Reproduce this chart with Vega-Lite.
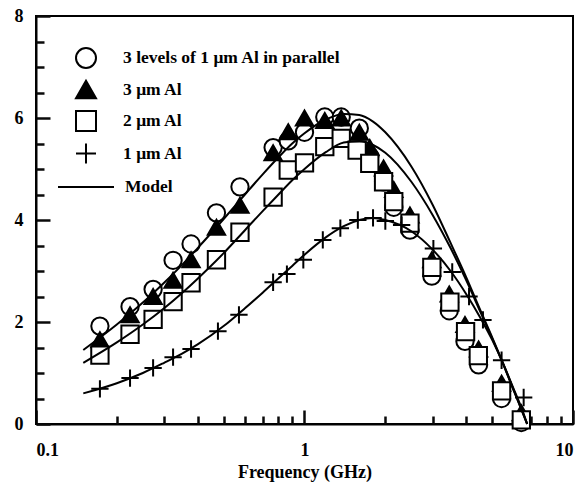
{
  "$schema": "https://vega.github.io/schema/vega-lite/v6.json",
  "width": 537,
  "height": 408,
  "autosize": {"type": "none"},
  "padding": {"left": 36, "top": 16, "right": 12, "bottom": 65},
  "background": "white",
  "config": {
    "view": {"stroke": "black", "strokeWidth": 2},
    "font": "Liberation Serif",
    "axis": {
      "grid": false,
      "domainColor": "black",
      "domainWidth": 2,
      "labelFont": "Liberation Serif",
      "labelFontWeight": "bold",
      "labelFontSize": 18,
      "labelColor": "black",
      "titleFont": "Liberation Serif",
      "titleFontWeight": "bold",
      "titleFontSize": 18,
      "titleColor": "black"
    }
  },
  "datasets": {
    "points": [
      {"f": 0.173, "g": 1.92, "s": "3 levels of 1 μm Al in parallel"},
      {"f": 0.224, "g": 2.30, "s": "3 levels of 1 μm Al in parallel"},
      {"f": 0.273, "g": 2.64, "s": "3 levels of 1 μm Al in parallel"},
      {"f": 0.324, "g": 3.21, "s": "3 levels of 1 μm Al in parallel"},
      {"f": 0.378, "g": 3.53, "s": "3 levels of 1 μm Al in parallel"},
      {"f": 0.47, "g": 4.14, "s": "3 levels of 1 μm Al in parallel"},
      {"f": 0.575, "g": 4.65, "s": "3 levels of 1 μm Al in parallel"},
      {"f": 0.764, "g": 5.42, "s": "3 levels of 1 μm Al in parallel"},
      {"f": 0.87, "g": 5.55, "s": "3 levels of 1 μm Al in parallel"},
      {"f": 1.0, "g": 5.72, "s": "3 levels of 1 μm Al in parallel"},
      {"f": 1.19, "g": 6.02, "s": "3 levels of 1 μm Al in parallel"},
      {"f": 1.37, "g": 6.02, "s": "3 levels of 1 μm Al in parallel"},
      {"f": 1.6, "g": 5.8, "s": "3 levels of 1 μm Al in parallel"},
      {"f": 1.75, "g": 5.25, "s": "3 levels of 1 μm Al in parallel"},
      {"f": 1.97, "g": 4.75, "s": "3 levels of 1 μm Al in parallel"},
      {"f": 2.15, "g": 4.25, "s": "3 levels of 1 μm Al in parallel"},
      {"f": 2.47, "g": 3.8, "s": "3 levels of 1 μm Al in parallel"},
      {"f": 2.98, "g": 2.9, "s": "3 levels of 1 μm Al in parallel"},
      {"f": 3.46, "g": 2.22, "s": "3 levels of 1 μm Al in parallel"},
      {"f": 3.96, "g": 1.62, "s": "3 levels of 1 μm Al in parallel"},
      {"f": 4.45, "g": 1.16, "s": "3 levels of 1 μm Al in parallel"},
      {"f": 5.42, "g": 0.5, "s": "3 levels of 1 μm Al in parallel"},
      {"f": 6.42, "g": 0.03, "s": "3 levels of 1 μm Al in parallel"},
      {"f": 0.173, "g": 1.65, "s": "3 μm Al"},
      {"f": 0.224, "g": 2.14, "s": "3 μm Al"},
      {"f": 0.273, "g": 2.50, "s": "3 μm Al"},
      {"f": 0.324, "g": 2.82, "s": "3 μm Al"},
      {"f": 0.378, "g": 3.22, "s": "3 μm Al"},
      {"f": 0.47, "g": 3.86, "s": "3 μm Al"},
      {"f": 0.575, "g": 4.29, "s": "3 μm Al"},
      {"f": 0.764, "g": 5.32, "s": "3 μm Al"},
      {"f": 0.87, "g": 5.73, "s": "3 μm Al"},
      {"f": 1.0, "g": 6.0, "s": "3 μm Al"},
      {"f": 1.19, "g": 5.95, "s": "3 μm Al"},
      {"f": 1.37, "g": 6.0, "s": "3 μm Al"},
      {"f": 1.6, "g": 5.72, "s": "3 μm Al"},
      {"f": 1.75, "g": 5.42, "s": "3 μm Al"},
      {"f": 1.97, "g": 5.02, "s": "3 μm Al"},
      {"f": 2.15, "g": 4.6, "s": "3 μm Al"},
      {"f": 2.47, "g": 4.1, "s": "3 μm Al"},
      {"f": 2.98, "g": 3.22, "s": "3 μm Al"},
      {"f": 3.46, "g": 2.55, "s": "3 μm Al"},
      {"f": 3.96, "g": 1.95, "s": "3 μm Al"},
      {"f": 4.45, "g": 1.47, "s": "3 μm Al"},
      {"f": 5.42, "g": 0.8, "s": "3 μm Al"},
      {"f": 6.42, "g": 0.22, "s": "3 μm Al"},
      {"f": 0.173, "g": 1.35, "s": "2 μm Al"},
      {"f": 0.224, "g": 1.76, "s": "2 μm Al"},
      {"f": 0.273, "g": 2.05, "s": "2 μm Al"},
      {"f": 0.324, "g": 2.40, "s": "2 μm Al"},
      {"f": 0.378, "g": 2.77, "s": "2 μm Al"},
      {"f": 0.47, "g": 3.22, "s": "2 μm Al"},
      {"f": 0.575, "g": 3.76, "s": "2 μm Al"},
      {"f": 0.764, "g": 4.45, "s": "2 μm Al"},
      {"f": 0.87, "g": 4.98, "s": "2 μm Al"},
      {"f": 1.0, "g": 5.12, "s": "2 μm Al"},
      {"f": 1.19, "g": 5.44, "s": "2 μm Al"},
      {"f": 1.37, "g": 5.6, "s": "2 μm Al"},
      {"f": 1.57, "g": 5.37, "s": "2 μm Al"},
      {"f": 1.75, "g": 5.11, "s": "2 μm Al"},
      {"f": 1.97, "g": 4.75, "s": "2 μm Al"},
      {"f": 2.15, "g": 4.36, "s": "2 μm Al"},
      {"f": 2.47, "g": 3.94, "s": "2 μm Al"},
      {"f": 2.98, "g": 3.07, "s": "2 μm Al"},
      {"f": 3.48, "g": 2.39, "s": "2 μm Al"},
      {"f": 3.98, "g": 1.81, "s": "2 μm Al"},
      {"f": 4.44, "g": 1.34, "s": "2 μm Al"},
      {"f": 5.42, "g": 0.65, "s": "2 μm Al"},
      {"f": 6.42, "g": 0.08, "s": "2 μm Al"},
      {"f": 0.173, "g": 0.69, "s": "1 μm Al"},
      {"f": 0.224, "g": 0.90, "s": "1 μm Al"},
      {"f": 0.273, "g": 1.10, "s": "1 μm Al"},
      {"f": 0.324, "g": 1.31, "s": "1 μm Al"},
      {"f": 0.378, "g": 1.47, "s": "1 μm Al"},
      {"f": 0.476, "g": 1.82, "s": "1 μm Al"},
      {"f": 0.57, "g": 2.14, "s": "1 μm Al"},
      {"f": 0.764, "g": 2.78, "s": "1 μm Al"},
      {"f": 0.86, "g": 2.94, "s": "1 μm Al"},
      {"f": 0.99, "g": 3.22, "s": "1 μm Al"},
      {"f": 1.17, "g": 3.61, "s": "1 μm Al"},
      {"f": 1.36, "g": 3.84, "s": "1 μm Al"},
      {"f": 1.58, "g": 4.0, "s": "1 μm Al"},
      {"f": 1.8, "g": 4.04, "s": "1 μm Al"},
      {"f": 2.0, "g": 3.98, "s": "1 μm Al"},
      {"f": 2.3, "g": 3.9, "s": "1 μm Al"},
      {"f": 3.02, "g": 3.44, "s": "1 μm Al"},
      {"f": 3.55, "g": 2.98, "s": "1 μm Al"},
      {"f": 4.1, "g": 2.5, "s": "1 μm Al"},
      {"f": 4.62, "g": 2.04, "s": "1 μm Al"},
      {"f": 5.42, "g": 1.25, "s": "1 μm Al"},
      {"f": 6.55, "g": 0.52, "s": "1 μm Al"}
    ],
    "model": [
      {"f": 0.15, "g": 1.45, "c": "A", "m": "Model"},
      {"f": 0.2, "g": 1.95, "c": "A", "m": "Model"},
      {"f": 0.25, "g": 2.38, "c": "A", "m": "Model"},
      {"f": 0.3, "g": 2.77, "c": "A", "m": "Model"},
      {"f": 0.35, "g": 3.12, "c": "A", "m": "Model"},
      {"f": 0.4, "g": 3.45, "c": "A", "m": "Model"},
      {"f": 0.5, "g": 4.02, "c": "A", "m": "Model"},
      {"f": 0.6, "g": 4.5, "c": "A", "m": "Model"},
      {"f": 0.7, "g": 4.9, "c": "A", "m": "Model"},
      {"f": 0.8, "g": 5.23, "c": "A", "m": "Model"},
      {"f": 0.9, "g": 5.5, "c": "A", "m": "Model"},
      {"f": 1.0, "g": 5.7, "c": "A", "m": "Model"},
      {"f": 1.2, "g": 5.97, "c": "A", "m": "Model"},
      {"f": 1.4, "g": 6.08, "c": "A", "m": "Model"},
      {"f": 1.6, "g": 6.06, "c": "A", "m": "Model"},
      {"f": 1.8, "g": 5.93, "c": "A", "m": "Model"},
      {"f": 2.0, "g": 5.72, "c": "A", "m": "Model"},
      {"f": 2.5, "g": 5.05, "c": "A", "m": "Model"},
      {"f": 3.0, "g": 4.3, "c": "A", "m": "Model"},
      {"f": 3.5, "g": 3.55, "c": "A", "m": "Model"},
      {"f": 4.0, "g": 2.88, "c": "A", "m": "Model"},
      {"f": 4.5, "g": 2.25, "c": "A", "m": "Model"},
      {"f": 5.0, "g": 1.7, "c": "A", "m": "Model"},
      {"f": 5.5, "g": 1.18, "c": "A", "m": "Model"},
      {"f": 6.0, "g": 0.68, "c": "A", "m": "Model"},
      {"f": 6.5, "g": 0.22, "c": "A", "m": "Model"},
      {"f": 6.75, "g": 0.0, "c": "A", "m": "Model"},
      {"f": 0.15, "g": 1.2, "c": "B", "m": "Model"},
      {"f": 0.2, "g": 1.6, "c": "B", "m": "Model"},
      {"f": 0.25, "g": 1.95, "c": "B", "m": "Model"},
      {"f": 0.3, "g": 2.27, "c": "B", "m": "Model"},
      {"f": 0.35, "g": 2.57, "c": "B", "m": "Model"},
      {"f": 0.4, "g": 2.85, "c": "B", "m": "Model"},
      {"f": 0.5, "g": 3.35, "c": "B", "m": "Model"},
      {"f": 0.6, "g": 3.8, "c": "B", "m": "Model"},
      {"f": 0.7, "g": 4.18, "c": "B", "m": "Model"},
      {"f": 0.8, "g": 4.5, "c": "B", "m": "Model"},
      {"f": 0.9, "g": 4.78, "c": "B", "m": "Model"},
      {"f": 1.0, "g": 5.0, "c": "B", "m": "Model"},
      {"f": 1.2, "g": 5.33, "c": "B", "m": "Model"},
      {"f": 1.4, "g": 5.52, "c": "B", "m": "Model"},
      {"f": 1.6, "g": 5.55, "c": "B", "m": "Model"},
      {"f": 1.8, "g": 5.47, "c": "B", "m": "Model"},
      {"f": 2.0, "g": 5.32, "c": "B", "m": "Model"},
      {"f": 2.5, "g": 4.75, "c": "B", "m": "Model"},
      {"f": 3.0, "g": 4.1, "c": "B", "m": "Model"},
      {"f": 3.5, "g": 3.45, "c": "B", "m": "Model"},
      {"f": 4.0, "g": 2.82, "c": "B", "m": "Model"},
      {"f": 4.5, "g": 2.22, "c": "B", "m": "Model"},
      {"f": 5.0, "g": 1.68, "c": "B", "m": "Model"},
      {"f": 5.5, "g": 1.17, "c": "B", "m": "Model"},
      {"f": 6.0, "g": 0.67, "c": "B", "m": "Model"},
      {"f": 6.5, "g": 0.22, "c": "B", "m": "Model"},
      {"f": 6.75, "g": 0.0, "c": "B", "m": "Model"},
      {"f": 0.15, "g": 0.6, "c": "C", "m": "Model"},
      {"f": 0.2, "g": 0.8, "c": "C", "m": "Model"},
      {"f": 0.25, "g": 1.0, "c": "C", "m": "Model"},
      {"f": 0.3, "g": 1.2, "c": "C", "m": "Model"},
      {"f": 0.35, "g": 1.38, "c": "C", "m": "Model"},
      {"f": 0.4, "g": 1.56, "c": "C", "m": "Model"},
      {"f": 0.5, "g": 1.92, "c": "C", "m": "Model"},
      {"f": 0.6, "g": 2.27, "c": "C", "m": "Model"},
      {"f": 0.7, "g": 2.58, "c": "C", "m": "Model"},
      {"f": 0.8, "g": 2.86, "c": "C", "m": "Model"},
      {"f": 0.9, "g": 3.1, "c": "C", "m": "Model"},
      {"f": 1.0, "g": 3.32, "c": "C", "m": "Model"},
      {"f": 1.2, "g": 3.66, "c": "C", "m": "Model"},
      {"f": 1.4, "g": 3.88, "c": "C", "m": "Model"},
      {"f": 1.6, "g": 4.0, "c": "C", "m": "Model"},
      {"f": 1.8, "g": 4.04, "c": "C", "m": "Model"},
      {"f": 2.0, "g": 4.0, "c": "C", "m": "Model"},
      {"f": 2.5, "g": 3.78, "c": "C", "m": "Model"},
      {"f": 3.0, "g": 3.42, "c": "C", "m": "Model"},
      {"f": 3.5, "g": 3.0, "c": "C", "m": "Model"},
      {"f": 4.0, "g": 2.55, "c": "C", "m": "Model"},
      {"f": 4.5, "g": 2.1, "c": "C", "m": "Model"},
      {"f": 5.0, "g": 1.65, "c": "C", "m": "Model"},
      {"f": 5.5, "g": 1.18, "c": "C", "m": "Model"},
      {"f": 6.0, "g": 0.7, "c": "C", "m": "Model"},
      {"f": 6.5, "g": 0.25, "c": "C", "m": "Model"},
      {"f": 6.75, "g": 0.0, "c": "C", "m": "Model"}
    ]
  },
  "layer": [
    {
      "data": {"name": "points"},
      "mark": {"type": "point", "filled": true, "stroke": "black", "strokeWidth": 2, "size": 300, "opacity": 1},
      "encoding": {
        "x": {"field": "f", "type": "quantitative", "scale": {"type": "log", "domain": [0.1, 10], "nice": false},
          "axis": {"orient": "bottom", "values": [0.1, 1, 10], "format": "~g", "tickColor": "#0a0a0a", "tickWidth": 2.5, "tickSize": -14, "labelPadding": 31, "title": "Frequency (GHz)", "titlePadding": 4}},
        "y": {"field": "g", "type": "quantitative", "scale": {"domain": [0, 8], "nice": false, "zero": false},
          "axis": {"orient": "left", "values": [0, 2, 4, 6, 8], "format": "d", "tickColor": "#0a0a0a", "tickWidth": 2.5, "tickSize": -14, "labelPadding": 27, "title": null}},
        "shape": {"field": "s", "type": "nominal",
          "scale": {"domain": ["3 levels of 1 μm Al in parallel", "3 μm Al", "2 μm Al", "1 μm Al"], "range": ["circle", "triangle-up", "square", "M-1,0H1M0,-1V1"]},
          "legend": {"title": null, "orient": "none", "legendX": 39, "legendY": 31, "symbolSize": 400, "symbolStrokeWidth": 2, "rowPadding": 4.5, "labelOffset": 26, "labelLimit": 0, "labelFont": "Liberation Serif", "labelFontWeight": "bold", "labelFontSize": 17.5, "labelColor": "black", "padding": 0}},
        "fill": {"field": "s", "type": "nominal",
          "scale": {"domain": ["3 levels of 1 μm Al in parallel", "3 μm Al", "2 μm Al", "1 μm Al"], "range": ["white", "black", "white", "white"]},
          "legend": {"title": null, "orient": "none", "legendX": 39, "legendY": 31, "symbolSize": 400, "symbolStrokeWidth": 2, "rowPadding": 4.5, "labelOffset": 26, "labelLimit": 0, "labelFont": "Liberation Serif", "labelFontWeight": "bold", "labelFontSize": 17.5, "labelColor": "black", "padding": 0}}
      }
    },
    {
      "data": {"name": "model"},
      "mark": {"type": "line", "strokeWidth": 2, "interpolate": "monotone"},
      "encoding": {
        "x": {"field": "f", "type": "quantitative", "scale": {"type": "log", "domain": [0.1, 10], "nice": false},
          "axis": {"orient": "bottom", "values": [0.2, 0.3, 0.4, 0.5, 0.6, 0.7, 0.8, 0.9, 2, 3, 4, 5, 6, 7, 8, 9], "tickColor": "#0a0a0a", "tickWidth": 2.5, "tickSize": -8, "labels": false, "domain": false, "title": null}},
        "y": {"field": "g", "type": "quantitative", "scale": {"domain": [0, 8], "nice": false, "zero": false},
          "axis": {"orient": "left", "values": [0.5, 1, 1.5, 2.5, 3, 3.5, 4.5, 5, 5.5, 6.5, 7, 7.5], "tickColor": "#0a0a0a", "tickWidth": 2.5, "tickSize": -8, "labels": false, "domain": false, "title": null}},
        "detail": {"field": "c"},
        "stroke": {"field": "m", "type": "nominal", "scale": {"domain": ["Model"], "range": ["black"]},
          "legend": {"title": null, "orient": "none", "legendX": 21, "legendY": 142, "symbolType": "stroke", "symbolSize": 3136, "symbolStrokeWidth": 2, "symbolStrokeColor": "black", "labelOffset": 10, "labelFont": "Liberation Serif", "labelFontWeight": "bold", "labelFontSize": 17.5, "labelColor": "black", "padding": 0}}
      }
    }
  ],
  "resolve": {"axis": {"x": "independent", "y": "independent"}}
}
